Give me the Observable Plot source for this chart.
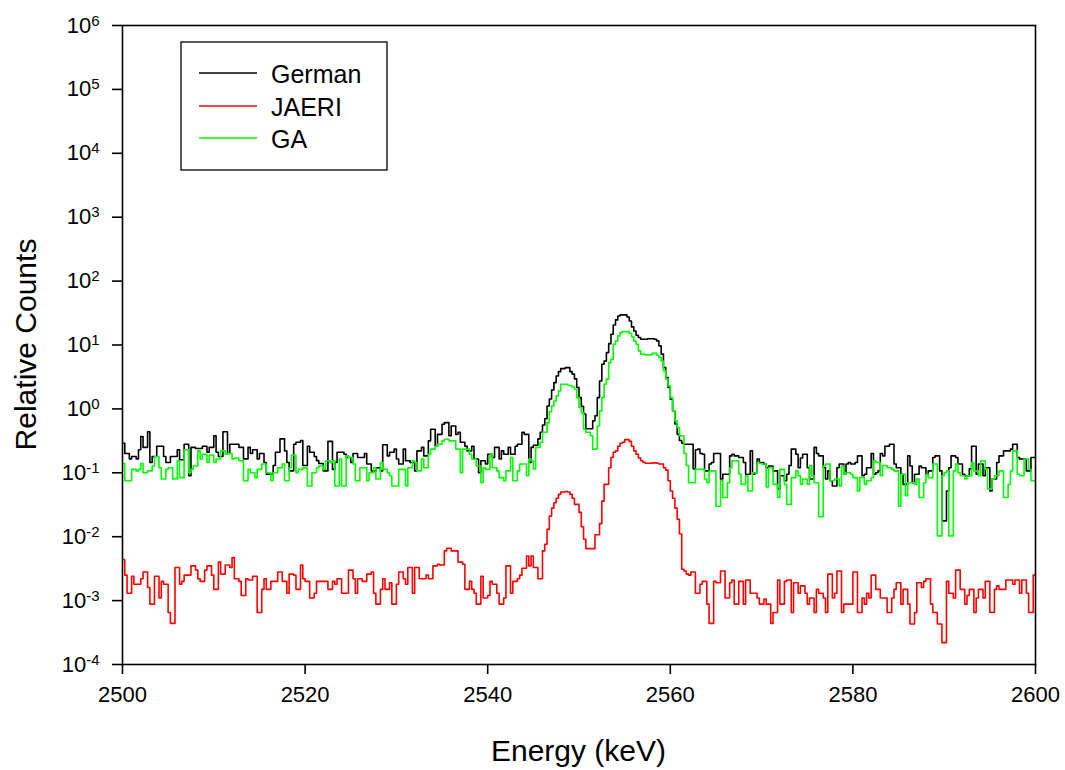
<!DOCTYPE html>
<html>
<head>
<meta charset="utf-8">
<script src="https://cdn.jsdelivr.net/npm/d3@7"></script>
<script src="https://cdn.jsdelivr.net/npm/@observablehq/plot@0.6"></script>
<style>
  body { margin: 0; background: #fff; }
  #chart svg { display: block; }
</style>
</head>
<body>
<div id="chart"></div>
<script>
// Spectrum histograms: 0.25 keV bins starting at 2500 keV (400 bins per detector set)
const startEnergy = 2500;
const binWidth = 0.25;

const german = [
  0.29, 0.2, 0.2, 0.165, 0.18, 0.18, 0.165, 0.23, 0.37, 0.25,
  0.25, 0.44, 0.145, 0.18, 0.18, 0.26, 0.26, 0.26, 0.18, 0.145,
  0.145, 0.18, 0.18, 0.18, 0.23, 0.16, 0.16, 0.28, 0.28, 0.09,
  0.25, 0.25, 0.24, 0.24, 0.24, 0.26, 0.26, 0.21, 0.25, 0.25,
  0.38, 0.21, 0.18, 0.18, 0.44, 0.44, 0.2, 0.28, 0.28, 0.28,
  0.28, 0.25, 0.25, 0.165, 0.165, 0.25, 0.2, 0.23, 0.23, 0.165,
  0.2, 0.2, 0.145, 0.095, 0.095, 0.095, 0.13, 0.21, 0.21, 0.34,
  0.34, 0.22, 0.145, 0.107, 0.107, 0.28, 0.3, 0.3, 0.32, 0.13,
  0.13, 0.26, 0.21, 0.21, 0.18, 0.155, 0.14, 0.14, 0.107, 0.107,
  0.31, 0.31, 0.113, 0.145, 0.21, 0.21, 0.21, 0.195, 0.174, 0.174,
  0.145, 0.2, 0.2, 0.174, 0.174, 0.174, 0.2, 0.137, 0.137, 0.107,
  0.107, 0.12, 0.12, 0.107, 0.275, 0.275, 0.184, 0.21, 0.21, 0.235,
  0.164, 0.137, 0.137, 0.235, 0.154, 0.154, 0.145, 0.145, 0.107, 0.22,
  0.22, 0.25, 0.184, 0.184, 0.316, 0.48, 0.48, 0.26, 0.4, 0.4,
  0.575, 0.61, 0.61, 0.38, 0.54, 0.54, 0.4, 0.43, 0.3, 0.3,
  0.26, 0.22, 0.22, 0.26, 0.164, 0.164, 0.1, 0.154, 0.154, 0.137,
  0.195, 0.195, 0.174, 0.25, 0.25, 0.164, 0.22, 0.195, 0.195, 0.25,
  0.195, 0.195, 0.26, 0.28, 0.28, 0.43, 0.4, 0.4, 0.145, 0.25,
  0.27, 0.27, 0.34, 0.43, 0.56, 0.7, 1.11, 1.43, 1.98, 2.58,
  3.28, 3.83, 4.27, 4.27, 4.43, 4.43, 3.83, 3.5, 2.95, 2.16,
  1.5, 1.1, 0.83, 0.49, 0.49, 0.49, 0.65, 0.78, 1.5, 2.74,
  5.0, 5.6, 7.6, 10.5, 14.7, 20.6, 24.7, 28.5, 29.6, 29.6,
  29.6, 27.5, 23.8, 19.2, 16.6, 14.2, 13.1, 12.3, 12.3, 12.3,
  12.5, 12.5, 12.5, 12.3, 11.6, 9.7, 7.2, 4.43, 3.1, 2.16,
  1.42, 0.93, 0.58, 0.4, 0.32, 0.29, 0.28, 0.28, 0.28, 0.28,
  0.115, 0.23, 0.235, 0.2, 0.195, 0.107, 0.107, 0.137, 0.145, 0.2,
  0.2, 0.2, 0.08, 0.095, 0.095, 0.095, 0.184, 0.195, 0.184, 0.184,
  0.174, 0.174, 0.145, 0.095, 0.095, 0.22, 0.095, 0.1, 0.164, 0.145,
  0.145, 0.137, 0.12, 0.128, 0.128, 0.107, 0.107, 0.056, 0.09, 0.09,
  0.075, 0.095, 0.13, 0.235, 0.235, 0.195, 0.12, 0.17, 0.195, 0.195,
  0.12, 0.08, 0.08, 0.25, 0.2, 0.184, 0.184, 0.12, 0.08, 0.107,
  0.075, 0.062, 0.062, 0.12, 0.137, 0.137, 0.095, 0.137, 0.145, 0.137,
  0.137, 0.145, 0.184, 0.184, 0.09, 0.095, 0.12, 0.12, 0.2, 0.095,
  0.1, 0.107, 0.2, 0.184, 0.26, 0.26, 0.28, 0.28, 0.137, 0.12,
  0.12, 0.095, 0.066, 0.066, 0.184, 0.128, 0.07, 0.095, 0.095, 0.128,
  0.12, 0.12, 0.095, 0.107, 0.107, 0.174, 0.184, 0.184, 0.107, 0.0177,
  0.0177, 0.052, 0.12, 0.184, 0.184, 0.174, 0.137, 0.137, 0.095, 0.09,
  0.09, 0.115, 0.26, 0.26, 0.095, 0.137, 0.137, 0.09, 0.12, 0.12,
  0.052, 0.08, 0.08, 0.145, 0.184, 0.184, 0.22, 0.22, 0.22, 0.235,
  0.28, 0.28, 0.174, 0.164, 0.164, 0.164, 0.107, 0.107, 0.174, 0.174
];

const jaeri = [
  0.0044, 0.0025, 0.0013, 0.0013, 0.0024, 0.0018, 0.0018, 0.0018, 0.0022, 0.0028,
  0.0028, 0.0016, 0.00088, 0.00088, 0.0024, 0.0024, 0.0011, 0.002, 0.0018, 0.0018,
  0.00065, 0.00044, 0.00044, 0.0033, 0.0033, 0.0018, 0.002, 0.0025, 0.0025, 0.0025,
  0.0035, 0.0035, 0.003, 0.0022, 0.002, 0.002, 0.003, 0.0035, 0.0035, 0.0025,
  0.0015, 0.0015, 0.004, 0.0026, 0.0026, 0.0036, 0.0036, 0.0033, 0.0047, 0.0022,
  0.0022, 0.002, 0.0012, 0.0012, 0.0022, 0.0021, 0.0021, 0.0024, 0.0024, 0.00065,
  0.00065, 0.0015, 0.0022, 0.0015, 0.0015, 0.002, 0.002, 0.002, 0.0028, 0.0028,
  0.002, 0.002, 0.0013, 0.0026, 0.0026, 0.0025, 0.0015, 0.0015, 0.0036, 0.0022,
  0.002, 0.002, 0.0011, 0.0011, 0.0013, 0.002, 0.002, 0.002, 0.002, 0.002,
  0.0015, 0.0015, 0.002, 0.0018, 0.0022, 0.0022, 0.0013, 0.0013, 0.0013, 0.003,
  0.003, 0.0022, 0.0013, 0.0022, 0.0022, 0.002, 0.002, 0.0026, 0.0026, 0.0028,
  0.0013, 0.00088, 0.00088, 0.0015, 0.0022, 0.0015, 0.0015, 0.0019, 0.00088, 0.00088,
  0.0018, 0.0028, 0.0028, 0.0022, 0.0018, 0.0033, 0.0033, 0.0013, 0.0033, 0.0033,
  0.0022, 0.0022, 0.0022, 0.0025, 0.0022, 0.0022, 0.0035, 0.0035, 0.0037, 0.0036,
  0.0036, 0.006, 0.0066, 0.0066, 0.006, 0.006, 0.006, 0.004, 0.004, 0.0037,
  0.0015, 0.0015, 0.002, 0.0015, 0.0013, 0.00088, 0.00088, 0.0024, 0.0011, 0.0011,
  0.0012, 0.002, 0.0018, 0.0018, 0.0013, 0.00088, 0.00088, 0.0011, 0.0035, 0.0035,
  0.0013, 0.002, 0.002, 0.0022, 0.0025, 0.0032, 0.0032, 0.005, 0.0035, 0.005,
  0.0033, 0.0033, 0.0022, 0.0022, 0.006, 0.0076, 0.013, 0.021, 0.028, 0.034,
  0.04, 0.046, 0.05, 0.05, 0.051, 0.05, 0.046, 0.04, 0.032, 0.032,
  0.024, 0.0143, 0.0091, 0.0065, 0.0065, 0.0065, 0.0065, 0.0107, 0.0107, 0.016,
  0.036, 0.066, 0.066, 0.12, 0.174, 0.21, 0.22, 0.26, 0.29, 0.3,
  0.33, 0.33, 0.31, 0.26, 0.22, 0.195, 0.17, 0.154, 0.146, 0.141,
  0.141, 0.141, 0.143, 0.143, 0.141, 0.137, 0.137, 0.12, 0.11, 0.075,
  0.052, 0.04, 0.028, 0.0188, 0.011, 0.0031, 0.0029, 0.0026, 0.0025, 0.0028,
  0.0028, 0.0013, 0.0013, 0.0018, 0.002, 0.002, 0.00088, 0.00044, 0.00044, 0.002,
  0.0019, 0.0019, 0.0029, 0.0029, 0.0011, 0.0011, 0.0019, 0.0021, 0.00088, 0.00088,
  0.002, 0.002, 0.00088, 0.0021, 0.0021, 0.0013, 0.0013, 0.0013, 0.0011, 0.00088,
  0.00088, 0.00106, 0.00088, 0.00088, 0.00044, 0.00065, 0.00065, 0.0021, 0.00088, 0.00088,
  0.002, 0.0021, 0.0021, 0.00065, 0.0019, 0.0019, 0.0013, 0.0017, 0.0017, 0.0013,
  0.00088, 0.0011, 0.0011, 0.00065, 0.0015, 0.0013, 0.0013, 0.0011, 0.00065, 0.0026,
  0.0026, 0.0011, 0.0013, 0.0029, 0.0029, 0.00065, 0.00088, 0.00088, 0.00088, 0.00088,
  0.0028, 0.0028, 0.00065, 0.00065, 0.0011, 0.00088, 0.0013, 0.0011, 0.0025, 0.0025,
  0.0015, 0.0015, 0.0011, 0.0011, 0.0011, 0.00065, 0.00065, 0.0011, 0.0015, 0.0019,
  0.0019, 0.00088, 0.0015, 0.0015, 0.00088, 0.00043, 0.00043, 0.00065, 0.0019, 0.0019,
  0.0016, 0.002, 0.0022, 0.0022, 0.00088, 0.00065, 0.00065, 0.00043, 0.00043, 0.00022,
  0.00022, 0.002, 0.0013, 0.0013, 0.0011, 0.003, 0.003, 0.0015, 0.0015, 0.00088,
  0.0012, 0.0015, 0.0015, 0.00065, 0.0011, 0.0015, 0.0015, 0.0011, 0.002, 0.002,
  0.00065, 0.00065, 0.0015, 0.0017, 0.0015, 0.0015, 0.0015, 0.0021, 0.0021, 0.0021,
  0.0018, 0.0021, 0.0021, 0.0013, 0.0021, 0.0021, 0.0013, 0.00065, 0.00065, 0.0025
];

const ga = [
  0.14, 0.075, 0.075, 0.075, 0.113, 0.113, 0.107, 0.113, 0.14, 0.1,
  0.1, 0.107, 0.107, 0.128, 0.18, 0.18, 0.12, 0.08, 0.08, 0.113,
  0.12, 0.12, 0.08, 0.08, 0.154, 0.084, 0.084, 0.23, 0.23, 0.1,
  0.113, 0.128, 0.128, 0.22, 0.164, 0.195, 0.195, 0.145, 0.19, 0.19,
  0.145, 0.164, 0.164, 0.22, 0.22, 0.195, 0.2, 0.2, 0.164, 0.17,
  0.17, 0.154, 0.154, 0.075, 0.075, 0.113, 0.1, 0.1, 0.084, 0.113,
  0.113, 0.137, 0.137, 0.1, 0.1, 0.075, 0.1, 0.1, 0.12, 0.12,
  0.137, 0.075, 0.075, 0.12, 0.19, 0.19, 0.1, 0.113, 0.113, 0.12,
  0.12, 0.062, 0.062, 0.1, 0.1, 0.12, 0.128, 0.128, 0.113, 0.154,
  0.154, 0.145, 0.154, 0.062, 0.062, 0.164, 0.062, 0.062, 0.184, 0.174,
  0.174, 0.137, 0.075, 0.075, 0.12, 0.12, 0.12, 0.075, 0.1, 0.1,
  0.12, 0.08, 0.08, 0.145, 0.113, 0.113, 0.1, 0.09, 0.062, 0.062,
  0.062, 0.113, 0.113, 0.113, 0.062, 0.12, 0.12, 0.154, 0.145, 0.107,
  0.107, 0.164, 0.12, 0.12, 0.195, 0.235, 0.235, 0.26, 0.28, 0.28,
  0.316, 0.335, 0.335, 0.316, 0.316, 0.316, 0.235, 0.235, 0.1, 0.235,
  0.235, 0.235, 0.195, 0.164, 0.164, 0.128, 0.128, 0.07, 0.12, 0.113,
  0.113, 0.195, 0.12, 0.12, 0.107, 0.084, 0.084, 0.075, 0.107, 0.107,
  0.174, 0.075, 0.075, 0.107, 0.137, 0.137, 0.137, 0.09, 0.164, 0.154,
  0.115, 0.25, 0.25, 0.3, 0.43, 0.43, 0.61, 0.9, 1.11, 1.33,
  1.6, 1.91, 2.43, 2.43, 2.43, 2.35, 2.3, 2.2, 2.03, 1.5,
  1.05, 0.875, 0.48, 0.43, 0.43, 0.38, 0.235, 0.235, 0.54, 0.93,
  1.5, 2.43, 2.92, 5.3, 6.0, 10.3, 11.6, 13.9, 15.6, 16.2,
  16.2, 16.2, 15.3, 13.6, 11.6, 10.3, 8.1, 7.2, 7.2, 7.0,
  7.0, 7.0, 7.4, 7.4, 6.9, 6.4, 5.6, 3.93, 2.92, 2.29,
  1.5, 0.93, 0.65, 0.51, 0.38, 0.38, 0.2, 0.13, 0.07, 0.07,
  0.07, 0.113, 0.113, 0.113, 0.113, 0.08, 0.07, 0.107, 0.107, 0.107,
  0.03, 0.03, 0.075, 0.041, 0.041, 0.07, 0.12, 0.154, 0.154, 0.154,
  0.095, 0.066, 0.066, 0.09, 0.052, 0.052, 0.1, 0.1, 0.145, 0.14,
  0.137, 0.137, 0.06, 0.12, 0.12, 0.066, 0.066, 0.041, 0.113, 0.113,
  0.066, 0.032, 0.032, 0.084, 0.084, 0.107, 0.09, 0.066, 0.08, 0.08,
  0.066, 0.13, 0.09, 0.07, 0.07, 0.0205, 0.0205, 0.128, 0.137, 0.137,
  0.075, 0.075, 0.08, 0.08, 0.062, 0.128, 0.095, 0.1, 0.1, 0.095,
  0.084, 0.084, 0.052, 0.084, 0.084, 0.066, 0.075, 0.075, 0.084, 0.154,
  0.145, 0.145, 0.09, 0.13, 0.13, 0.12, 0.12, 0.113, 0.107, 0.107,
  0.03, 0.095, 0.095, 0.044, 0.07, 0.07, 0.07, 0.066, 0.08, 0.041,
  0.041, 0.07, 0.095, 0.084, 0.084, 0.137, 0.137, 0.0103, 0.0103, 0.09,
  0.1, 0.107, 0.0103, 0.0103, 0.107, 0.137, 0.1, 0.09, 0.09, 0.08,
  0.09, 0.09, 0.145, 0.107, 0.107, 0.09, 0.154, 0.154, 0.113, 0.056,
  0.056, 0.08, 0.09, 0.09, 0.107, 0.107, 0.041, 0.041, 0.066, 0.107,
  0.22, 0.22, 0.095, 0.09, 0.09, 0.164, 0.164, 0.113, 0.075, 0.075
];

const seriesNames = ["German", "JAERI", "GA"];
const seriesColors = ["#000000", "#ff0000", "#00ff00"];
const xTicks = [2500, 2520, 2540, 2560, 2580, 2600];
const yTicks = [1e-4, 1e-3, 1e-2, 1e-1, 1e0, 1e1, 1e2, 1e3, 1e4, 1e5, 1e6];

// Each histogram becomes a step line; the last bin is closed at its upper edge.
function histogramPoints(name, values) {
  const pts = values.map((v, i) => ({ series: name, energy: startEnergy + i * binWidth, counts: v }));
  pts.push({ series: name, energy: startEnergy + values.length * binWidth, counts: values[values.length - 1] });
  return pts;
}

const points = [
  ...histogramPoints("German", german),
  ...histogramPoints("JAERI", jaeri),
  ...histogramPoints("GA", ga)
];

const font = "'Liberation Sans', Arial, Helvetica, sans-serif";

const svg = Plot.plot({
  width: 1065,
  height: 770,
  marginLeft: 122,
  marginRight: 30,
  marginTop: 25,
  marginBottom: 106,
  style: { fontFamily: font, fontSize: "22px", color: "#000", background: "#fff", overflow: "visible" },
  x: { domain: [2500, 2600] },
  y: { type: "log", domain: [1e-4, 1e6] },
  color: { domain: seriesNames, range: seriesColors },
  marks: [
    Plot.line(points, {
      x: "energy", y: "counts", z: "series", stroke: "series",
      curve: "step-after", strokeWidth: 1.6
    }),
    Plot.frame({ stroke: "#000", strokeWidth: 1.6 }),
    Plot.axisX({
      ticks: xTicks, tickFormat: d => String(d), tickSize: 10, tickPadding: 12,
      strokeWidth: 1.6, fontSize: 22, label: null
    }),
    Plot.axisY({
      ticks: yTicks, tickFormat: d => String(Math.round(Math.log10(d))),
      tickSize: 10, tickPadding: 13, strokeWidth: 1.6, fontSize: 22, label: null
    })
  ]
});

const ns = "http://www.w3.org/2000/svg";

// Powers of ten as "10" with a raised exponent
svg.querySelectorAll('g[aria-label="y-axis tick label"] text').forEach(t => {
  const exp = t.textContent;
  t.textContent = "";
  const base = document.createElementNS(ns, "tspan");
  base.textContent = "10";
  const sup = document.createElementNS(ns, "tspan");
  sup.textContent = exp;
  sup.setAttribute("dy", "-7");
  sup.setAttribute("font-size", "15px");
  t.append(base, sup);
});

const root = d3.select(svg);

// Axis titles
root.append("text")
  .attr("x", 578.5).attr("y", 761)
  .attr("text-anchor", "middle")
  .attr("font-family", font).attr("font-size", 30).attr("fill", "#000")
  .text("Energy (keV)");

root.append("text")
  .attr("transform", "translate(36,344.5) rotate(-90)")
  .attr("text-anchor", "middle")
  .attr("font-family", font).attr("font-size", 30).attr("fill", "#000")
  .text("Relative Counts");

// Legend box
const legend = root.append("g")
  .attr("font-family", font).attr("font-size", 25).attr("text-anchor", "start");
legend.append("rect")
  .attr("x", 181).attr("y", 42).attr("width", 206).attr("height", 128)
  .attr("fill", "#fff").attr("stroke", "#000").attr("stroke-width", 1.3);
const rowY = [73, 106, 138];
seriesNames.forEach((name, i) => {
  legend.append("line")
    .attr("x1", 199).attr("x2", 257).attr("y1", rowY[i]).attr("y2", rowY[i])
    .attr("stroke", seriesColors[i]).attr("stroke-width", 1.6);
  legend.append("text")
    .attr("x", 271).attr("y", rowY[i] + 9.5)
    .attr("text-anchor", "start")
    .attr("fill", "#000")
    .text(name);
});

document.getElementById("chart").append(svg);
</script>
</body>
</html>
